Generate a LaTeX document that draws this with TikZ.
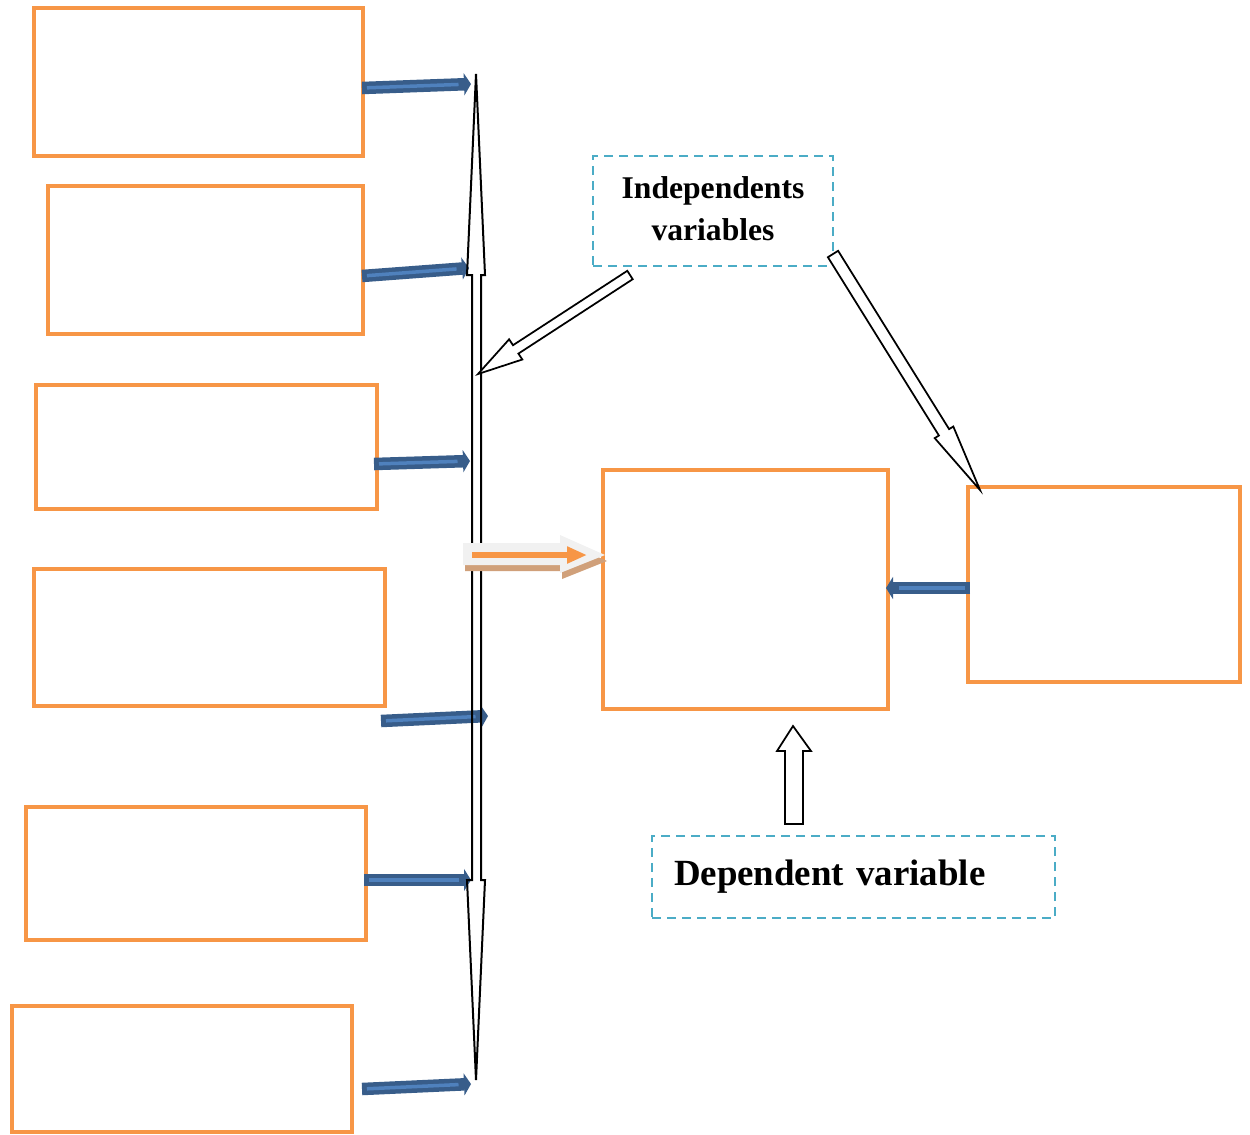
\documentclass[tikz,border=0pt]{standalone}
\usepackage{fontspec}
\setmainfont{Liberation Serif}
\usetikzlibrary{arrows.meta}
\definecolor{boxorange}{HTML}{F79646}
\definecolor{noteblue}{HTML}{4BACC6}
\definecolor{feeddark}{HTML}{385D8A}
\definecolor{feedlight}{HTML}{4F81BD}
\definecolor{shadowtan}{RGB}{208,160,122}
\definecolor{blockgray}{RGB}{241,241,241}
\begin{document}
\begin{tikzpicture}[x=0.02cm,y=-0.02cm,
  box/.style={draw=boxorange,line width=0.08cm,inner sep=0pt},
  note/.style={draw=noteblue,line width=0.055cm,dash pattern=on 0.18cm off 0.12cm,font=\bfseries},
  feed/.style={draw=feeddark,line width=0.25cm,-{Triangle[length=0.14cm,width=0.44cm]},
    postaction={draw=feedlight,line width=0.07cm,-,shorten >=0.25cm,shorten <=0.1cm}},
  hollow/.style={draw=black,line width=0.035cm,fill=white,line join=miter}]
\useasboundingbox (0,0) rectangle (1250,1134);
% factor boxes on the left
\foreach \n/\cx/\cy/\w/\h in {1/198.5/82/6.58/2.96,2/205.5/260/6.3/2.96,3/206.5/447/6.82/2.48,
  4/209.5/637.5/7.02/2.74,5/196/873.5/6.8/2.66,6/182/1069/6.8/2.52}
  \node[box,minimum width=\w cm,minimum height=\h cm] (b\n) at (\cx,\cy) {};
\node[box,minimum width=5.7cm,minimum height=4.78cm] (mid) at (745.5,589.5) {};
\node[box,minimum width=5.44cm,minimum height=3.9cm] (rb) at (1104,584.5) {};
% labels
\node[note,minimum width=4.8cm,minimum height=2.2cm,align=center,
  font=\fontsize{18}{23.5}\selectfont\bfseries] (indep) at (713,211) {Independents\\variables\rule[-0.1cm]{0pt}{0pt}};
\node[note,minimum width=8.06cm,minimum height=1.64cm,inner xsep=0.44cm,text width=7.18cm,
  align=left,font=\fontsize{21}{25}\selectfont\bfseries] (dep) at (853.5,877) {Dependent variable\rule[-0.1cm]{0pt}{0pt}};
% blue feeders into the axis
\foreach \n/\xa/\ya/\xb/\yb in {1/362/88/471/84,2/362/276/469/268,3/374/464/470/461,
  4/381/721/488/716,5/364/880/471/880,6/362/1089/471/1084,7/970/588/886/588}{
  \coordinate (t\n) at (\xa,\ya);
  \coordinate (h\n) at (\xb,\yb);
  \draw[feed] (t\n) -- (h\n);
}
% the long double arrow
\coordinate (top) at (476,74);
\coordinate (bot) at (476,1080);
\draw[line width=0.04cm,line join=miter] (top) -- (485,275) -- (481,275) -- (481,880) -- (485,880)
  -- (bot) -- (467,880) -- (472,880) -- (472,275) -- (467,275) -- cycle;
% shadowed arrow into the middle box
\fill[shadowtan] (465,549) -- (562,549) -- (562,541) -- (607,561) -- (562,579) -- (562,571) -- (465,571) -- cycle;
\fill[blockgray] (463,543) -- (560,543) -- (560,535) -- (605,555) -- (560,573) -- (560,565) -- (463,565) -- cycle;
\draw[boxorange,line width=0.12cm,-{Triangle[length=0.4cm,width=0.32cm]}] (472,555) -- (587,555);
% hollow arrows
\draw[hollow] (627.3,270.8) -- (513.0,345.2) -- (509.1,339.3) -- (478,374) -- (522.3,359.5)
  -- (518.4,353.6) -- (632.7,279.2) -- cycle;
\draw[hollow] (838.1,250.8) -- (949.1,429.1) -- (953.3,426.5) -- (980,490) -- (934.7,438.1)
  -- (938.9,435.5) -- (827.9,257.2) -- cycle;
\draw[hollow] (785,824) -- (785,751) -- (777,751) -- (793,726) -- (811,751) -- (803,751)
  -- (803,824) -- cycle;
\end{tikzpicture}
\end{document}
